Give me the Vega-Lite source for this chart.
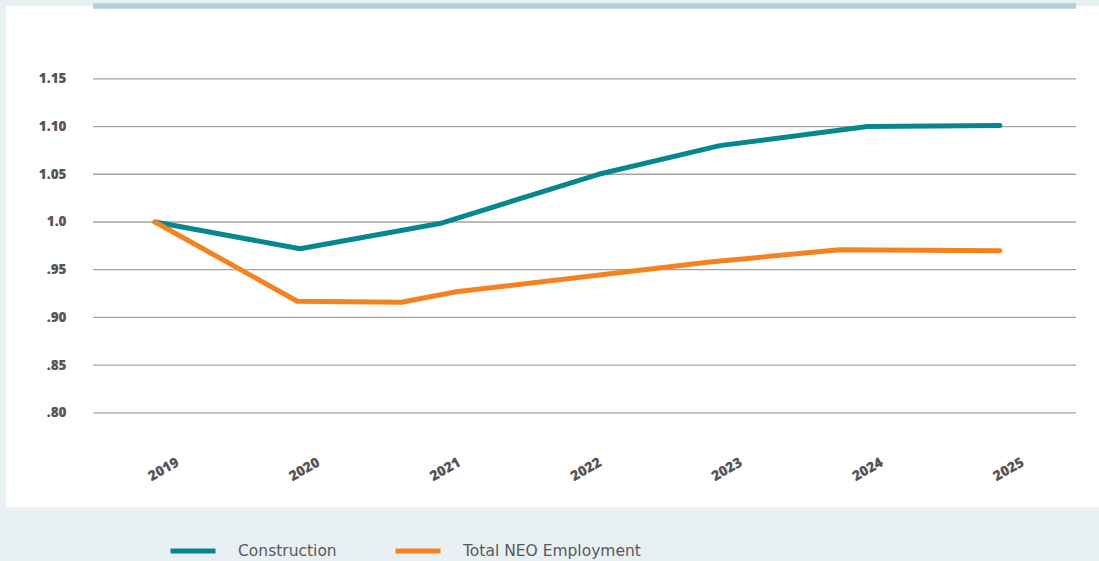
{
  "$schema": "https://vega.github.io/schema/vega-lite/v6.json",
  "width": 1093,
  "height": 501,
  "autosize": "none",
  "padding": {"left": 6, "top": 6, "right": 0, "bottom": 54},
  "background": "#e8f0f3",
  "datasets": {
    "grid": [
      {"v": 0.8}, {"v": 0.85}, {"v": 0.9}, {"v": 0.95},
      {"v": 1.0}, {"v": 1.05}, {"v": 1.1}, {"v": 1.15}
    ],
    "series": [
      {"year": 2019.0, "value": 1.0, "series": "Construction"},
      {"year": 2020.03, "value": 0.972, "series": "Construction"},
      {"year": 2021.04, "value": 0.999, "series": "Construction"},
      {"year": 2022.15, "value": 1.05, "series": "Construction"},
      {"year": 2023.01, "value": 1.08, "series": "Construction"},
      {"year": 2024.06, "value": 1.1, "series": "Construction"},
      {"year": 2025.0, "value": 1.101, "series": "Construction"},
      {"year": 2019.0, "value": 1.0, "series": "Total NEO Employment"},
      {"year": 2020.01, "value": 0.917, "series": "Total NEO Employment"},
      {"year": 2020.75, "value": 0.916, "series": "Total NEO Employment"},
      {"year": 2021.14, "value": 0.927, "series": "Total NEO Employment"},
      {"year": 2022.94, "value": 0.958, "series": "Total NEO Employment"},
      {"year": 2023.86, "value": 0.971, "series": "Total NEO Employment"},
      {"year": 2025.0, "value": 0.97, "series": "Total NEO Employment"}
    ]
  },
  "layer": [
    {
      "data": {"name": "grid"},
      "mark": {"type": "rule", "color": "#a3a3a3", "strokeWidth": 1.3},
      "encoding": {
        "y": {
          "field": "v",
          "type": "quantitative",
          "title": null,
          "scale": {"domain": [0.7014, 1.2263], "nice": false, "zero": false},
          "axis": {
            "values": [0.8, 0.85, 0.9, 0.95, 1.0, 1.05, 1.1, 1.15],
            "labelExpr": "datum.value == 1 ? '1.0' : datum.value > 1 ? format(datum.value, '.2f') : replace(format(datum.value, '.2f'), '0.', '.')",
            "labelAlign": "right",
            "labelBaseline": "middle",
            "labelPadding": 0,
            "offset": -60,
            "ticks": false,
            "tickSize": 0,
            "domain": false,
            "grid": false,
            "labelFont": "Open Sans",
            "labelFontWeight": 800,
            "labelFontSize": 13.5,
            "labelColor": "#545557"
          }
        },
        "x": {
          "datum": 2018.56,
          "type": "quantitative",
          "title": null,
          "scale": {"domain": [2017.942, 2025.703], "nice": false, "zero": false},
          "axis": {
            "values": [2019, 2020, 2021, 2022, 2023, 2024, 2025],
            "format": "d",
            "labelAngle": -30,
            "labelAlign": "right",
            "labelBaseline": "top",
            "labelOffset": 19,
            "labelPadding": 0,
            "offset": -52,
            "ticks": false,
            "tickSize": 0,
            "domain": false,
            "grid": false,
            "labelFont": "Open Sans",
            "labelFontWeight": 800,
            "labelFontSize": 14,
            "labelColor": "#545557"
          }
        },
        "x2": {"datum": 2025.54}
      }
    },
    {
      "data": {"values": [{}]},
      "mark": {"type": "rule", "color": "#b0d0d8", "strokeWidth": 5.5},
      "encoding": {
        "y": {"datum": 1.2263, "type": "quantitative", "title": null},
        "x": {"datum": 2018.56, "type": "quantitative", "title": null},
        "x2": {"datum": 2025.54}
      }
    },
    {
      "data": {"name": "series"},
      "mark": {"type": "line", "strokeWidth": 5, "strokeCap": "round", "strokeJoin": "round"},
      "encoding": {
        "x": {"field": "year", "type": "quantitative", "title": null},
        "y": {"field": "value", "type": "quantitative", "title": null},
        "color": {
          "field": "series",
          "type": "nominal",
          "scale": {
            "domain": ["Construction", "Total NEO Employment"],
            "range": ["#05878f", "#f5821f"]
          },
          "legend": {
            "title": null,
            "orient": "none",
            "direction": "horizontal",
            "legendX": 162,
            "legendY": 520,
            "symbolType": "stroke",
            "symbolSize": 2025,
            "symbolStrokeWidth": 5,
            "labelOffset": 20,
            "columnPadding": 48,
            "labelLimit": 0,
            "labelFont": "DejaVu Sans",
            "labelFontSize": 15.5,
            "labelColor": "#58595b"
          }
        }
      }
    }
  ],
  "config": {
    "view": {"fill": "white", "stroke": null}
  }
}
